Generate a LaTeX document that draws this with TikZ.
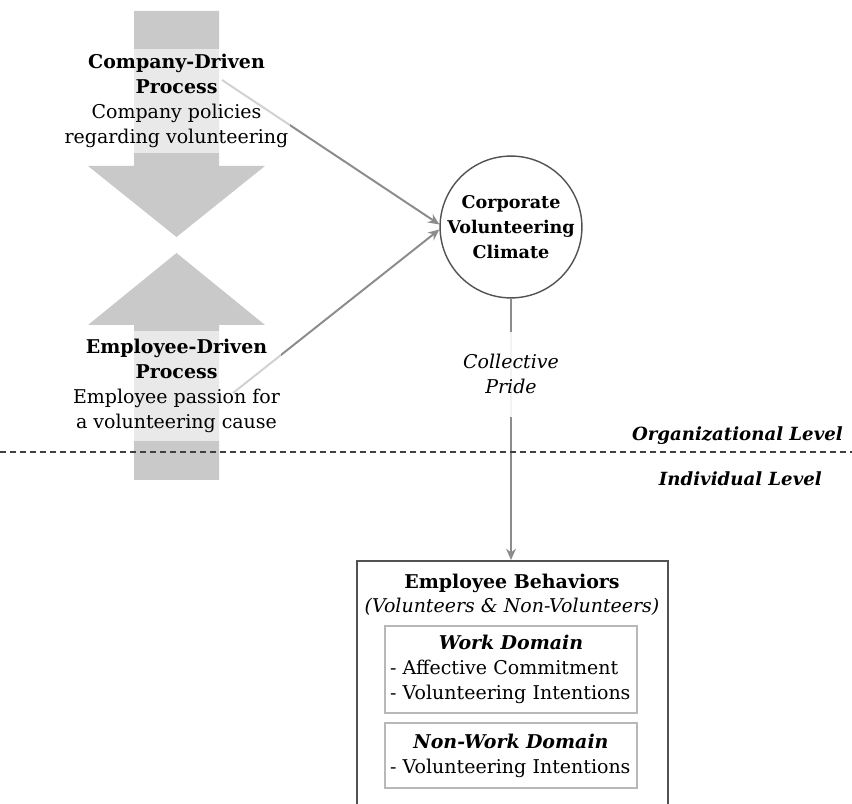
\documentclass[tikz,border=0pt]{standalone}
\usepackage{fontspec}
\setmainfont{DejaVu Serif}
\usetikzlibrary{arrows.meta}
\newcommand\figfont{\fontsize{13.5pt}{17.8pt}\selectfont}
\newcommand\circfont{\fontsize{12.5pt}{17.8pt}\selectfont}
\newcommand\lvlfont{\fontsize{12.9pt}{17.8pt}\selectfont}
\tikzset{
  bigarrow/.style={fill=black!21, draw=none},
  flowline/.style={draw=black!45, line width=1.4pt, -{Stealth[length=8pt,width=7pt]}},
  procbox/.style={fill=white, fill opacity=0.6, text opacity=1, align=center, font=\figfont, inner xsep=1pt, minimum height=2.6cm},
  climatenode/.style={circle, draw=black!68, line width=1pt, fill=white, align=center, font=\circfont\bfseries, minimum size=3.5cm, inner sep=0pt},
  pridebox/.style={fill=white, fill opacity=0.9, text opacity=1, align=center, font=\figfont\itshape, inner xsep=2pt, minimum height=2.125cm},
  levelline/.style={draw=black!75, line width=1.9pt, dash pattern=on 0.15cm off 0.1cm},
  levellabel/.style={anchor=east, font=\lvlfont\bfseries\itshape, inner sep=0pt},
  outerbox/.style={draw=black!68, line width=1.2pt, minimum width=7.775cm, minimum height=8cm, anchor=north},
  domainbox/.style={draw=black!28, line width=1.2pt, text width=6.05cm, inner xsep=0.125cm, align=left, font=\figfont, minimum width=6.3cm}
}
\begin{document}
\begin{tikzpicture}
		%%%%% START %%%%%
		\clip (0, 0) rectangle (21.3, 20.1);
		
		% the two process arrows
		\draw[bigarrow] (3.35, 19.825) -- (5.475, 19.825) -- (5.475, 15.95) -- (6.625, 15.95) -- (4.4125, 14.175) -- (2.2, 15.95) -- (3.35, 15.95) -- cycle;
		\draw[bigarrow] (3.35, 8.1) -- (5.475, 8.1) -- (5.475, 11.975) -- (6.625, 11.975) -- (4.4125, 13.775) -- (2.2, 11.975) -- (3.35, 11.975) -- cycle;
		
		\node[climatenode] (climate) at (12.775, 14.425) {Corporate\\Volunteering\\Climate};
		\node[outerbox] (behav) at (12.8125, 6.1) {};
		
		\coordinate (compstart) at (5.55, 18.1);
		\coordinate (empstart) at (5.825, 10.275);
		\draw[flowline] (compstart) -- (climate.178);
		\draw[flowline] (empstart) -- (climate.182);
		\draw[flowline] (climate) -- (climate |- behav.north);
		
		\node[procbox] (company) at (4.4125, 17.57) {\textbf{Company-Driven}\\\textbf{Process}\\Company policies\\regarding volunteering};
		\node[procbox, minimum height=2.75cm] (employee) at (4.4125, 10.45) {\textbf{Employee-Driven}\\\textbf{Process}\\Employee passion for\\a volunteering cause};
		\node[pridebox] (pride) at (12.775, 10.74) {Collective\\Pride};
		
		% level divider
		\coordinate (lvlleft) at (0, 8.8);
		\coordinate (lvlright) at (21.3, 8.8);
		\draw[levelline] (lvlleft) -- (lvlright);
		\node[levellabel] (orglevel) at (21.075, 9.2) {Organizational Level};
		\node[levellabel] (indlevel) at (20.55, 8.125) {Individual Level};
		
		% outcome box
		\node[font=\figfont\bfseries] (behavtitle) at (12.8, 5.525) {Employee Behaviors};
		\node[font=\figfont\itshape] (behavsub) at (12.8, 4.925) {(Volunteers \& Non-Volunteers)};
		\node[domainbox, minimum height=2.175cm] (workdom) at (12.775, 3.3625) {\makebox[\linewidth]{\bfseries\itshape Work Domain}\\- Affective Commitment\\- Volunteering Intentions};
		\node[domainbox, minimum height=1.625cm] (nonworkdom) at (12.775, 1.2125) {\makebox[\linewidth]{\bfseries\itshape Non-Work Domain}\\- Volunteering Intentions};
		%%%%% END %%%%%
	\end{tikzpicture}
\end{document}
